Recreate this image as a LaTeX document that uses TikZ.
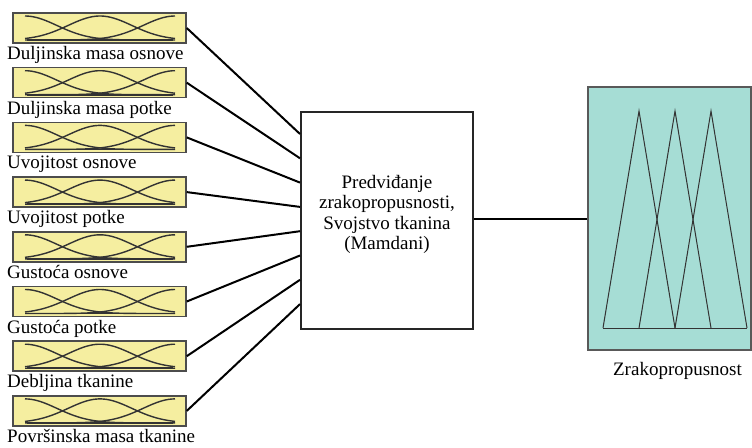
\documentclass[tikz,border=0pt]{standalone}
\usepackage{fontspec}
\setmainfont{Liberation Serif}
\usetikzlibrary{calc}
\definecolor{mfyellow}{RGB}{245,238,160}
\definecolor{outteal}{RGB}{166,221,213}
\tikzset{
  txt/.style={font=\fontsize{19}{20.5}\selectfont, inner sep=0pt},
  mfbox/.style={draw=black!70, fill=mfyellow, line width=1.5pt,
    minimum width=173pt, minimum height=30pt, inner sep=0pt},
  mfcurve/.style={draw=black!80, line width=1.4pt},
  fisbox/.style={draw=black!85, line width=2pt, fill=white,
    minimum width=172pt, minimum height=217pt},
  outbox/.style={draw=black!65, fill=outteal, line width=2pt,
    minimum width=163pt, minimum height=263pt},
  tri/.style={draw=black!80, line width=1pt},
  link/.style={line width=2pt}
}
\begin{document}
\begin{tikzpicture}[x=1pt, y=-1pt]
  \useasboundingbox (0,0) rectangle (752,447);
  % rule block
  \node[fisbox] (fis) at (387,220.5) {};
  \node[txt, align=center, yshift=6pt] (fistext) at (fis)
    {Predviđanje\\zrakopropusnosti,\\Svojstvo tkanina\\(Mamdani)};
  % inputs
  \foreach \name [count=\i from 0] in {Duljinska masa osnove,
      Duljinska masa potke, Uvojitost osnove, Uvojitost potke,
      Gustoća osnove, Gustoća potke, Debljina tkanine,
      Površinska masa tkanine} {
    \node[mfbox] (in\i) at (99.5,{28+54.7*\i}) {};
    \node[txt, anchor=base west] (lab\i) at (7,{59.5+54.7*\i}) {\name};
    \begin{scope}[shift={(25,{40+54.7*\i})}]
      \draw[mfcurve] plot[domain=0:150, samples=50, smooth]
        (\x,{-24*exp(-((\x)/31.85)^2/2)});
      \draw[mfcurve] plot[domain=0:150, samples=50, smooth]
        (\x,{-24*exp(-((\x-75)/31.85)^2/2)});
      \draw[mfcurve] plot[domain=0:150, samples=50, smooth]
        (\x,{-24*exp(-((\x-150)/31.85)^2/2)});
      \draw[mfcurve, line width=1.8pt] (2,0) -- (148,0);
    \end{scope}
    \coordinate (end\i) at ($(fis.north west)+(0,{23+24.3*\i})$);
    \draw[link] (in\i.east) -- (end\i);
  }
  % output
  \node[outbox] (out) at (669.5,218.5) {};
  \node[txt, anchor=base] (outlab) at (677.5,375) {Zrakopropusnost};
  \draw[link] (out.west -| fis.east) -- (out.west);
  \coordinate (b0) at (603,328);
  \coordinate (b1) at (639,328);
  \coordinate (b2) at (675,328);
  \coordinate (b3) at (711,328);
  \coordinate (b4) at (747,328);
  \coordinate (t1) at (639,111);
  \coordinate (t2) at (675,111);
  \coordinate (t3) at (711,111);
  \draw[tri] (b0) -- (t1) -- (b2);
  \draw[tri] (b1) -- (t2) -- (b3);
  \draw[tri] (b2) -- (t3) -- (b4);
  \draw[tri] (b0) -- (b4);
\end{tikzpicture}
\end{document}
